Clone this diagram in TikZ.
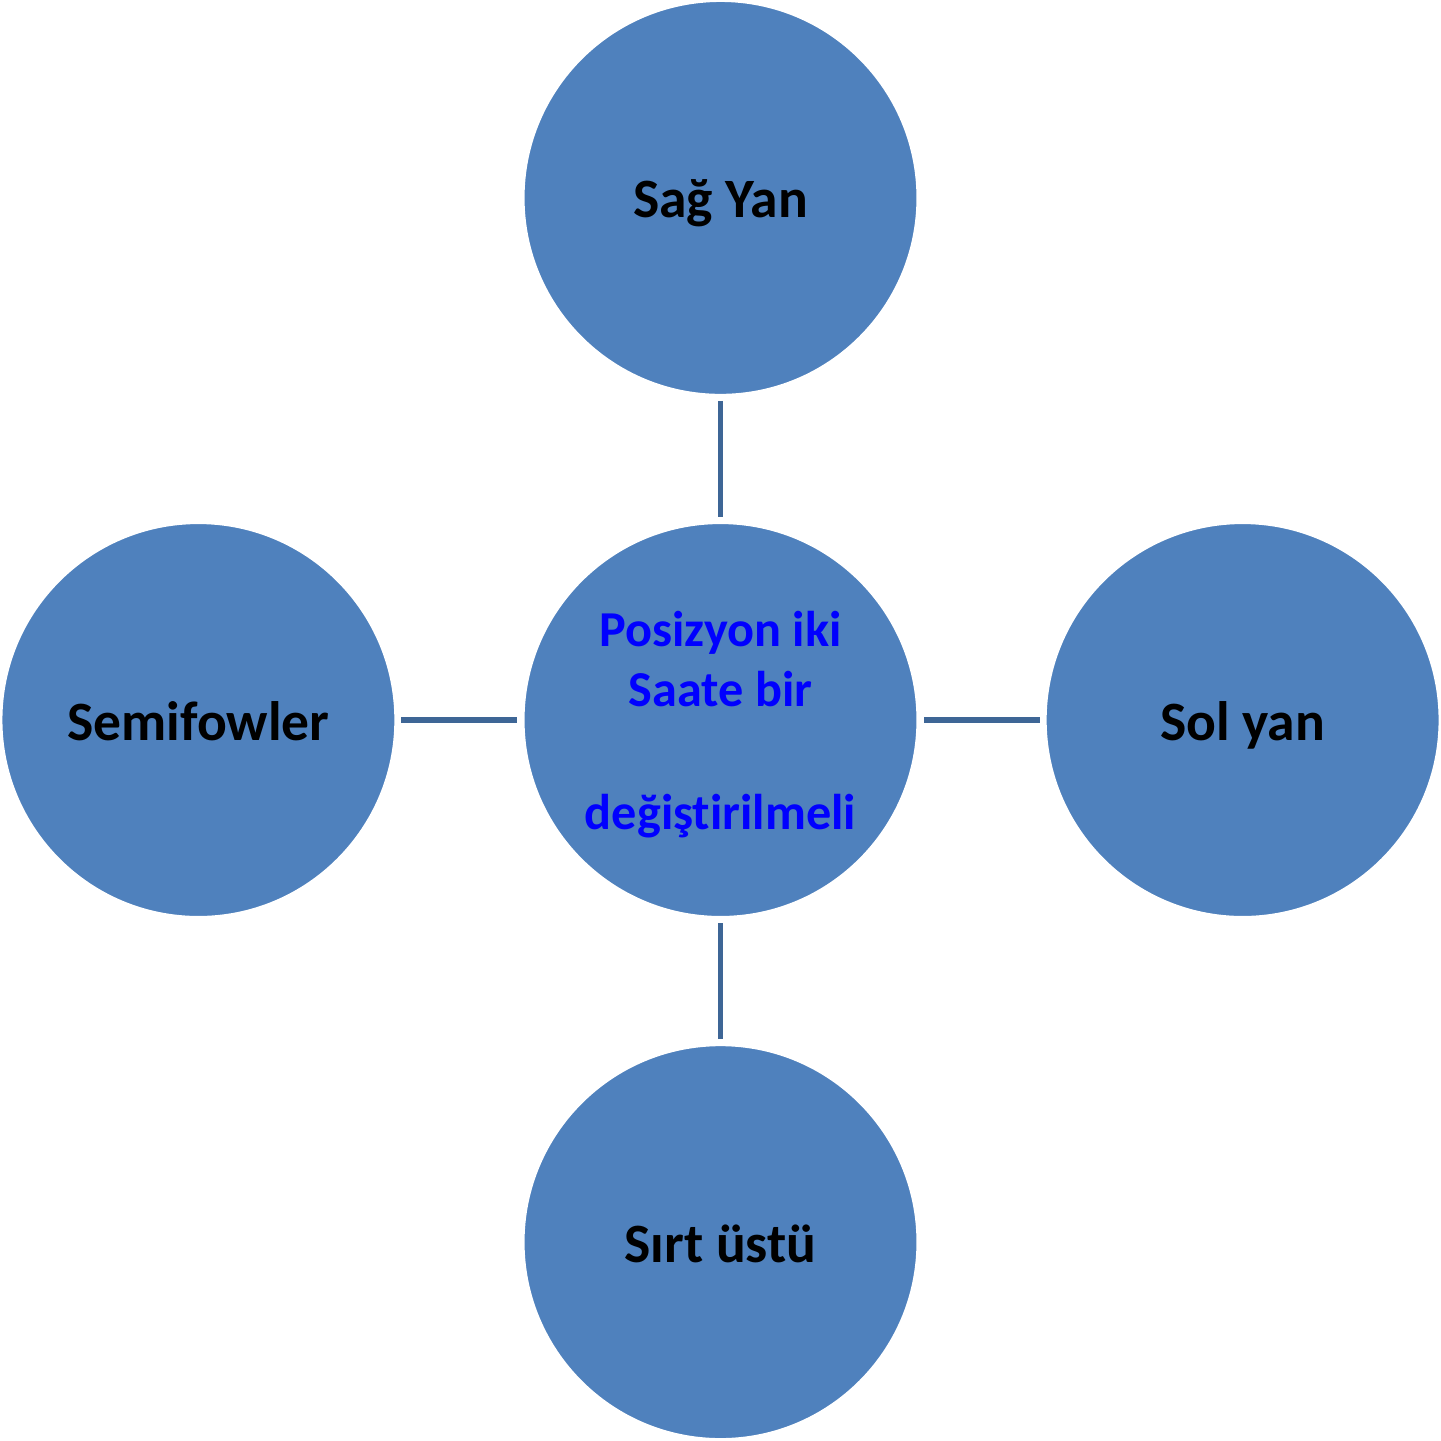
\documentclass[tikz,border=0pt]{standalone}
\usepackage{fontspec}
\setmainfont[Ligatures={NoCommon,NoContextual,NoRare}]{Carlito}
\usetikzlibrary{positioning}
\definecolor{bubblefill}{HTML}{4F81BD}
\definecolor{spokeblue}{HTML}{3E6696}

\begin{document}
\begin{tikzpicture}[
        bubble/.style={circle, fill=bubblefill, draw=white, line width=0.6pt,
            minimum size=3.94cm, inner sep=0pt, align=center,
            text height=14pt, text depth=2.6pt,
            font=\bfseries\fontsize{15.8}{17.2}\selectfont},
        hub/.style={bubble, text=blue, text height=, text depth=0pt,
            font=\bfseries\fontsize{14.3}{17.2}\selectfont},
        spoke/.style={draw=spokeblue, line width=0.055cm,
            shorten <=0.05cm, shorten >=0.05cm},
        node distance=1.26cm]
        \useasboundingbox (0,0) rectangle (14.41,-14.40);
        % middle one and the four around it
        \node[hub] (center) at (7.205,-7.20)
            {Posizyon iki\\Saate bir\\[17.6pt]değiştirilmeli};
        \node[bubble, above=of center] (sag) {Sağ Yan};
        \node[bubble, right=of center] (sol) {Sol yan};
        \node[bubble, below=of center] (sirt) {Sırt üstü};
        \node[bubble, left=of center] (semi) {Semifowler};
        \foreach \n in {sag, sol, sirt, semi}
            \draw[spoke] (\n) -- (center);
    \end{tikzpicture}
\end{document}
